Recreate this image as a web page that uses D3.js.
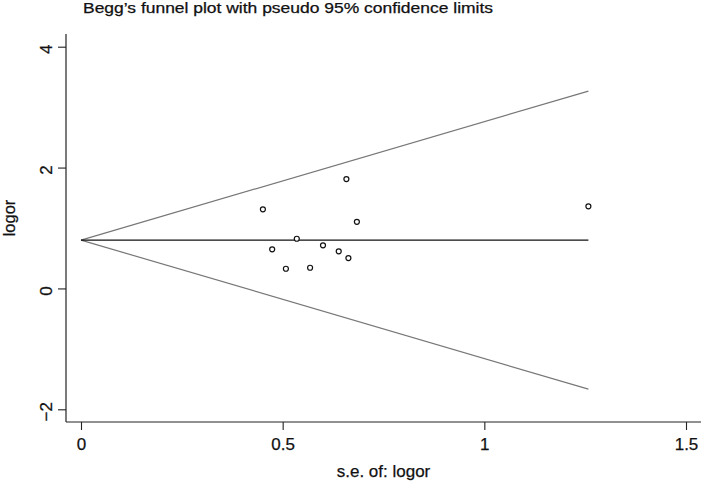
<!DOCTYPE html>
<html>
<head>
<meta charset="utf-8">
<script src="https://cdn.jsdelivr.net/npm/d3@7"></script>
<style>
  html, body { margin: 0; padding: 0; background: #fff; }
  svg { display: block; }
  text { font-family: "Liberation Sans", Arial, Helvetica, sans-serif; fill: #111; stroke: #111; stroke-width: 0.25px; }
</style>
</head>
<body>
<svg id="chart" width="708" height="482"></svg>
<script>
// ---- data ----
const studySE    = [0.451, 0.658, 0.684, 0.535, 0.474, 0.600, 0.639, 0.663, 0.508, 0.568, 1.258];
const studyLogOR = [1.309, 1.810, 1.103, 0.822, 0.647, 0.713, 0.614, 0.503, 0.326, 0.342, 1.358];
const funnelSE    = [0, 1.258];
const funnelUpper = [0.80, 3.266];
const funnelLower = [0.80, -1.666];
const pooledLine  = [0.80, 0.80];
const xTicks = [0, 0.5, 1, 1.5];
const yTicks = [-2, 0, 2, 4];
const titleText = "Begg\u2019s funnel plot with pseudo 95% confidence limits";
const xTitle = "s.e. of: logor";
const yTitle = "logor";

// ---- layout ----
const svg = d3.select("#chart");
const x = d3.scaleLinear().domain([0, 1.5]).range([81, 686]);
const y = d3.scaleLinear().domain([-2, 4]).range([409.3, 46.7]);
const axisX0 = 66, axisY0 = 422, axisTop = 34, axisRight = 701;

// title
svg.append("text")
  .attr("x", 83).attr("y", 13)
  .attr("font-size", 14)
  .attr("textLength", 410).attr("lengthAdjust", "spacingAndGlyphs")
  .text(titleText);

// axes lines
svg.append("line").attr("x1", axisX0).attr("x2", axisX0).attr("y1", axisTop).attr("y2", axisY0)
  .attr("stroke", "#222").attr("stroke-width", 1.2);
svg.append("line").attr("x1", axisX0).attr("x2", axisRight).attr("y1", axisY0).attr("y2", axisY0)
  .attr("stroke", "#222").attr("stroke-width", 1.2);

// y axis
const yAxis = d3.axisLeft(y).tickValues(yTicks).tickSize(8).tickSizeOuter(0).tickFormat(d3.format("d"));
const gy = svg.append("g").attr("transform", `translate(${axisX0},0)`).call(yAxis);
gy.select(".domain").remove();
gy.selectAll(".tick line").attr("stroke", "#222").attr("stroke-width", 1.1);
gy.selectAll(".tick text")
  .attr("font-size", 17).attr("font-family", "Liberation Sans, Arial, sans-serif").attr("fill", "#111")
  .attr("x", 0).attr("dy", 0).attr("dx", 0)
  .attr("text-anchor", "middle")
  .attr("transform", "translate(-14,2) rotate(-90)");

// x axis
const xAxis = d3.axisBottom(x).tickValues(xTicks).tickSize(8).tickSizeOuter(0).tickFormat(d => String(d));
const gx = svg.append("g").attr("transform", `translate(0,${axisY0})`).call(xAxis);
gx.select(".domain").remove();
gx.selectAll(".tick line").attr("stroke", "#222").attr("stroke-width", 1.1);
gx.selectAll(".tick text")
  .attr("font-size", 17).attr("font-family", "Liberation Sans, Arial, sans-serif").attr("fill", "#111")
  .attr("y", 28).attr("dy", 0);

// axis titles
svg.append("text").attr("x", (x(0) + x(1.5)) / 2).attr("y", 476.5)
  .attr("text-anchor", "middle").attr("font-size", 17).text(xTitle);
svg.append("text").attr("transform", "translate(15,218) rotate(-90)")
  .attr("text-anchor", "middle").attr("font-size", 16.5).text(yTitle);

// funnel lines
const line = d3.line().x(d => x(d[0])).y(d => y(d[1]));
svg.append("path").attr("d", line(d3.zip(funnelSE, funnelUpper)))
  .attr("fill", "none").attr("stroke", "#777").attr("stroke-width", 1.2);
svg.append("path").attr("d", line(d3.zip(funnelSE, funnelLower)))
  .attr("fill", "none").attr("stroke", "#777").attr("stroke-width", 1.2);
svg.append("path").attr("d", line(d3.zip(funnelSE, pooledLine)))
  .attr("fill", "none").attr("stroke", "#111").attr("stroke-width", 1.3);

// study points
svg.append("g").selectAll("circle")
  .data(d3.zip(studySE, studyLogOR))
  .join("circle")
  .attr("cx", d => x(d[0])).attr("cy", d => y(d[1]))
  .attr("r", 2.5)
  .attr("fill", "#fff").attr("stroke", "#111").attr("stroke-width", 1.2);
</script>
</body>
</html>
